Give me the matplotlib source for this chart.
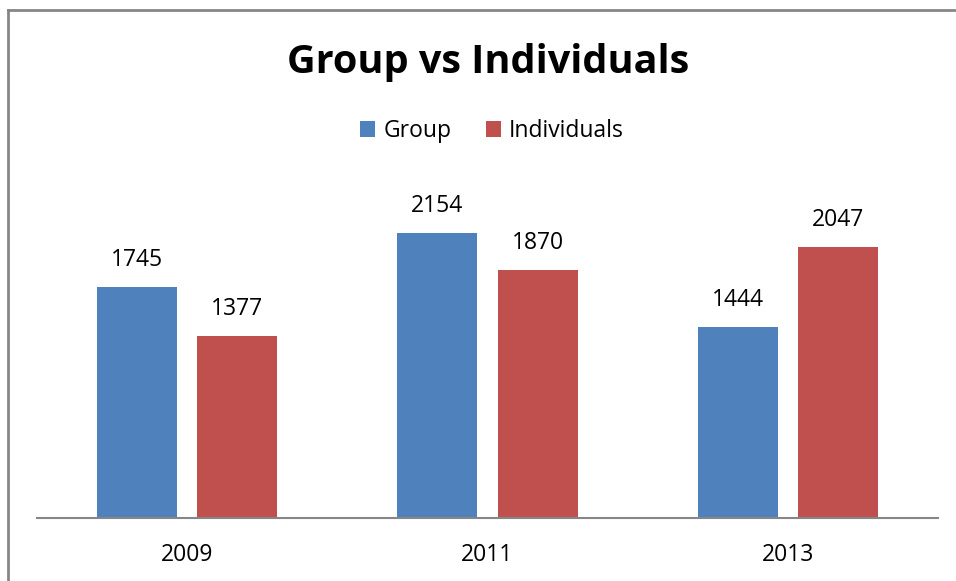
import matplotlib
matplotlib.use("Agg")
import matplotlib.pyplot as plt
from matplotlib.lines import Line2D
import numpy as np

years = ["2009", "2011", "2013"]
group = [1745, 2154, 1444]
individuals = [1377, 1870, 2047]
series_names = ["Group", "Individuals"]

BLUE = "#4F81BD"
RED = "#C0504D"
GRAY = "#868686"
FONT = "Open Sans"

W, H = 956, 581
fig = plt.figure(figsize=(W / 100, H / 100), dpi=100)
ax = fig.add_axes([37 / W, (H - 518) / H, (938 - 37) / W, 331 / H])

x = np.arange(len(years))
bw = 80 / 300.3
off = 50 / 300.3
b1 = ax.bar(x - off, group, bw, color=BLUE, label=series_names[0])
b2 = ax.bar(x + off, individuals, bw, color=RED, label=series_names[1])

for bars in (b1, b2):
    for r in bars:
        ax.annotate(f"{int(r.get_height())}", (r.get_x() + r.get_width() / 2, r.get_height()),
                    xytext=(0, 21), textcoords="offset pixels", ha="center", va="baseline",
                    fontsize=16.5, family=FONT, color="black")

ax.set_xlim(-0.5, 2.5)
ax.set_ylim(0, 2500)
ax.set_xticks(x)
ax.set_xticklabels(years, fontsize=16.5, family=FONT)
ax.tick_params(axis="x", length=0, pad=18)
ax.set_yticks([])
for s in ("top", "right", "left"):
    ax.spines[s].set_visible(False)
ax.spines["bottom"].set_color(GRAY)
ax.spines["bottom"].set_linewidth(1.5)

fig.text(488 / W, 1 - 62 / H, "Group vs Individuals", ha="center", va="center",
         fontsize=28.5, fontweight="bold", family=FONT)

leg = fig.legend(handles=[b1, b2], loc="center", bbox_to_anchor=(492 / W, 1 - 131 / H),
                 ncol=2, frameon=False, prop={"family": FONT, "size": 16.5},
                 handlelength=0.65, handleheight=0.65, handletextpad=0.35, columnspacing=1.5)

fig.add_artist(Line2D([7.5 / W, 7.5 / W], [0, 1 - 9.5 / H], transform=fig.transFigure,
                      color=GRAY, linewidth=2))
fig.add_artist(Line2D([7.5 / W, 1], [1 - 9.5 / H, 1 - 9.5 / H], transform=fig.transFigure,
                      color=GRAY, linewidth=2))

fig.savefig("out.png", dpi=100)
